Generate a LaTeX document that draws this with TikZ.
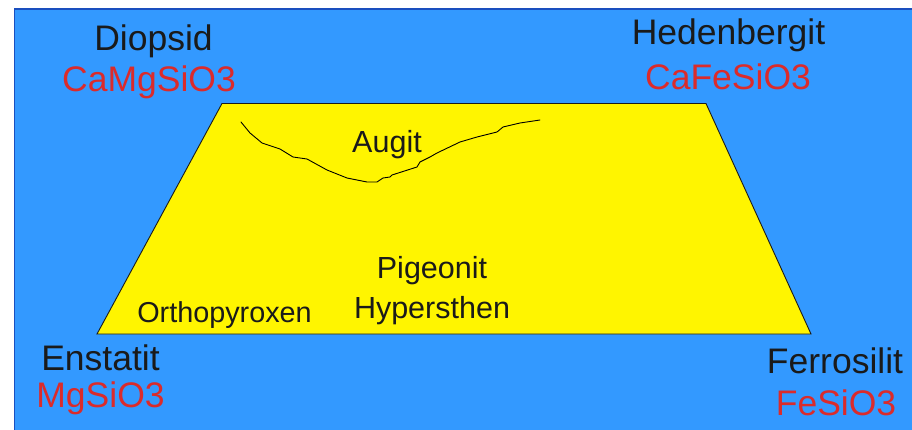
\documentclass[tikz,border=0pt]{standalone}
\usepackage{fontspec}
\setmainfont{Liberation Sans}
\definecolor{bgblue}{HTML}{3399FF}
\definecolor{edgeblue}{HTML}{1A4FBF}
\definecolor{ylw}{HTML}{FFF500}
\definecolor{txtred}{HTML}{DB2B2B}
\definecolor{txtblk}{HTML}{1A1A1A}
\tikzset{
  bigname/.style={anchor=base, text=txtblk, font=\fontsize{35.5}{35.5}\selectfont, inner sep=0pt},
  formula/.style={anchor=base, text=txtred, font=\fontsize{35.5}{35.5}\selectfont, inner sep=0pt},
  phase/.style={anchor=base, text=txtblk, font=\fontsize{30.5}{30.5}\selectfont, inner sep=0pt},
}
\begin{document}
\begin{tikzpicture}[x=1pt,y=-1pt]
\useasboundingbox (0,0) rectangle (912,430);
\fill[white] (0,0) rectangle (912,430);
\draw[edgeblue, fill=bgblue, line width=1.5pt] (14.5,9) rectangle (930,450);
\draw[fill=ylw, draw=txtblk, line width=0.9pt, line join=miter]
  (222,103.5) coordinate (tl) -- (706,103.5) coordinate (tr) -- (811,334) coordinate (br) -- (97,334) coordinate (bl) -- cycle;
\draw[black, line width=0.9pt, line join=round, line cap=round]
  (241,122) -- (250,133) -- (262,143) -- (280,149) -- (293,157) -- (307,159) -- (327,170) -- (347,178) -- (367,182) -- (377,182) -- (383,178) -- (390,177) -- (392,175) -- (417,167) -- (420,162) -- (430,157) -- (437,153) -- (460,142) -- (477,137) -- (497,132) -- (503,127) -- (520,123) -- (540,120);
\node[bigname] (diop) at (153.5,51) {Diopsid};
\node[formula] (diopf) at (149,91.5) {CaMgSiO3};
\node[bigname] (hed) at (728.5,45) {Hedenbergit};
\node[formula] (hedf) at (728,90) {CaFeSiO3};
\node[bigname] (ens) at (100.5,370.5) {Enstatit};
\node[formula] (ensf) at (100.5,407) {MgSiO3};
\node[bigname] (fer) at (835,373) {Ferrosilit};
\node[formula] (ferf) at (836,415) {FeSiO3};
\node[phase] (aug) at (387,152.5) {Augit};
\node[phase] (pig) at (432,278) {Pigeonit};
\node[phase] (hyp) at (432,318) {Hypersthen};
\node[phase, font=\fontsize{28.8}{28.8}\selectfont] (ortho) at (224.5,322.5) {Orthopyroxen};
\end{tikzpicture}
\end{document}
